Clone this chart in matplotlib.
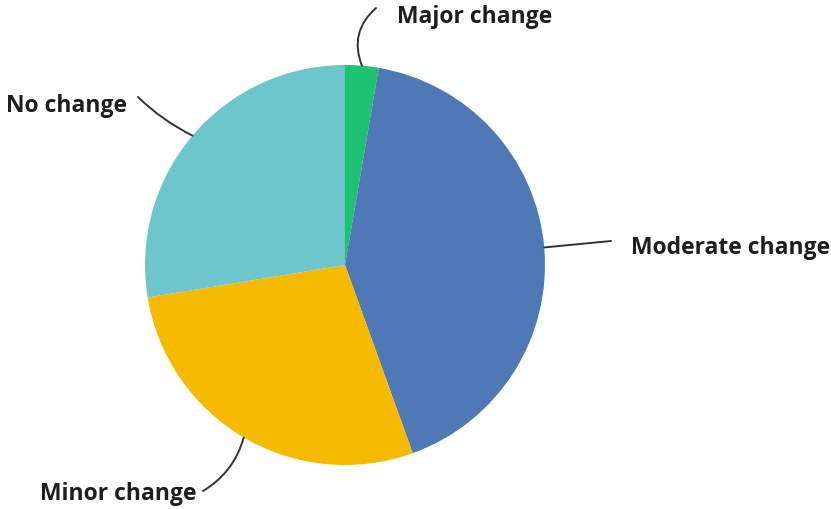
import matplotlib.pyplot as plt
import numpy as np

# Survey answers (share of respondents, %)
categories = ['Major change', 'Moderate change', 'Minor change', 'No change']
shares = [2.7, 41.8, 27.9, 27.6]
colors = ['#1FC173', '#4E79B5', '#F6BB00', '#6CC6CB']

W, H = 831, 509
fig = plt.figure(figsize=(W / 100, H / 100), dpi=100)
ax = fig.add_axes([0, 0, 1, 1])

cx, cy, r = 345, H - 265, 200
wedges, _ = ax.pie(shares, colors=colors, startangle=90, counterclock=False,
                   center=(cx, cy), radius=r, frame=True,
                   wedgeprops=dict(linewidth=0))
ax.set_xlim(0, W)
ax.set_ylim(0, H)
ax.set_aspect('equal')
ax.axis('off')

# label layout: (line end in px, text pos in px, ha, curvature)
layout = {
    'Major change':    ((376, 8),   (397, 17),  'left',  -0.35),
    'Moderate change': ((611, 241), (631, 248), 'left',  0.0),
    'Minor change':    ((203, 491), (196, 494), 'right', -0.2),
    'No change':       ((138, 97),  (127, 106), 'right', -0.08),
}

for w, name in zip(wedges, categories):
    mid = np.deg2rad((w.theta1 + w.theta2) / 2)
    start = (cx + r * np.cos(mid), cy + r * np.sin(mid))
    (ex, ey), (tx, ty), ha, rad = layout[name]
    ax.annotate('', xy=(ex, H - ey), xytext=start,
                arrowprops=dict(arrowstyle='-', color='#333333', lw=1.4,
                                shrinkA=0, shrinkB=0,
                                connectionstyle=f'arc3,rad={rad}'))
    ax.text(tx, H - ty, name, ha=ha, va='center', fontsize=16.5,
            fontweight='bold', family='Open Sans', color='#1E1E1E')

plt.savefig('out.png', dpi=100)
